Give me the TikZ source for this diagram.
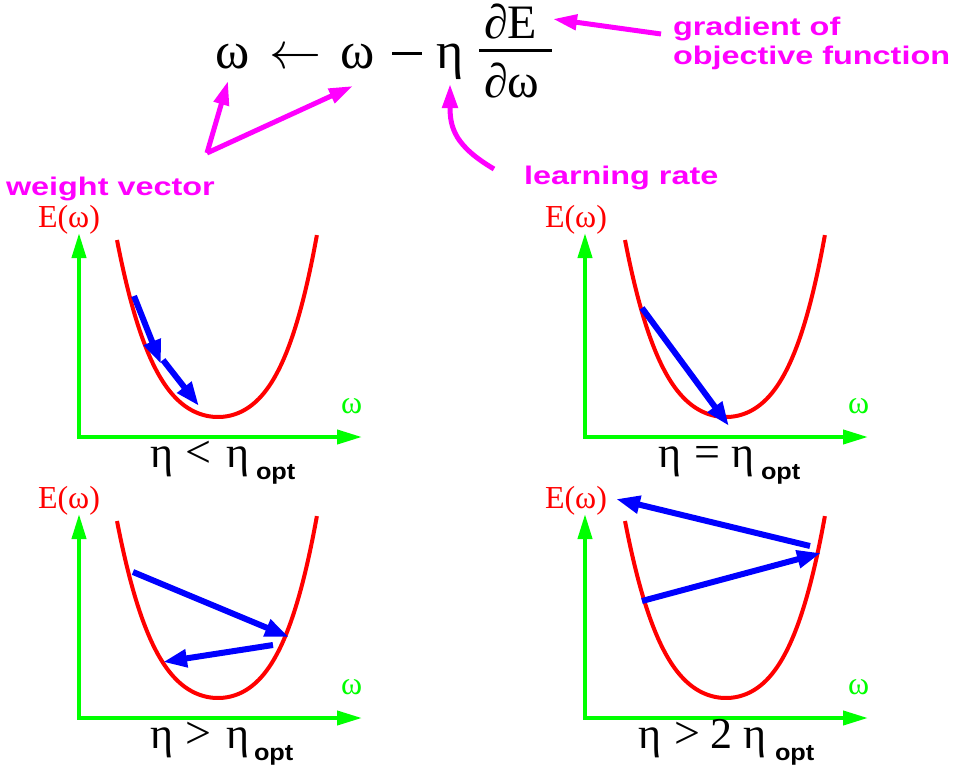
\documentclass[tikz,border=0pt]{standalone}
\usepackage{fontspec}
\usepackage{graphicx}
\setmainfont{Liberation Serif}
\newfontfamily\labfont[FakeStretch=1.27]{Liberation Sans}
\newfontfamily\optfont[FakeStretch=1.1]{Liberation Sans}
\usetikzlibrary{arrows.meta}
\definecolor{mag}{RGB}{255,0,255}
\definecolor{axgreen}{RGB}{0,255,0}
\definecolor{cvred}{RGB}{255,0,0}
\definecolor{stblue}{RGB}{0,0,255}
\newcommand\bowl[2]{\draw[curve] plot[domain=-1.01:0.99,samples=101,smooth] ({#1+218+100*\x},{#2+417-(1+0.045*\x)*(93*\x*\x+87*\x*\x*\x*\x)});}
\begin{document}
\begin{tikzpicture}[x=1pt,y=-1pt,
  every node/.style={inner sep=0pt,outer sep=0pt,anchor=base west},
  magarrow/.style={draw=mag,line width=5pt,-{Triangle[length=24pt,width=15pt]}},
  axisline/.style={draw=axgreen,line width=4pt,{Triangle[length=25pt,width=14pt]}-{Triangle[length=25pt,width=14pt]}},
  curve/.style={draw=cvred,line width=4pt},
  stepline/.style={draw=stblue,line width=6pt,-{Triangle[length=24pt,width=17pt]}},
  formula/.style={font=\fontsize{52}{60}\selectfont},
  fracpart/.style={font=\fontsize{48}{56}\selectfont},
  maglabel/.style={text=mag,font=\labfont\bfseries\fontsize{25.5}{30}\selectfont},
  elabel/.style={text=cvred,font=\fontsize{32}{36}\selectfont},
  wlabel/.style={text=axgreen,font=\fontsize{32}{36}\selectfont},
  etalabel/.style={font=\fontsize{44}{48}\selectfont},
  rellabel/.style={font=\fontsize{46}{50}\selectfont},
  optlabel/.style={font=\optfont\bfseries\fontsize{23}{26}\selectfont}]
\useasboundingbox (0,0) rectangle (953,776);

% ---- formula ----
\node[formula] (w1) at (215,68) {ω};
\node[formula] (larr) at (269,68) {\resizebox{52pt}{!}{$\leftarrow$}};
\node[formula] (w2) at (340,68) {ω};
\node[formula,anchor=west] (minus) at (392,54) {\rule{30pt}{3pt}};
\node[formula] (eta) at (436,68) {η};
\node[fracpart] (dE) at (484,39) {∂E};
\node[fracpart] (dw) at (484,97) {∂ω};
\coordinate (barL) at (479,51);
\coordinate (barR) at (552,51);
\draw[line width=3pt] (barL) -- (barR);

% ---- magenta annotations ----
\node[maglabel] (grad1) at (673,36) {gradient of};
\node[maglabel] (grad2) at (673,65) {objective function};
\node[maglabel] (wvec) at (6,195) {weight vector};
\node[maglabel] (lrate) at (524,184) {learning rate};
\coordinate (gradstart) at (661,34);
\coordinate (gradtip) at (553,19);
\draw[magarrow] (gradstart) -- (gradtip);
\coordinate (wv) at (207,153);
\coordinate (wtipA) at (228,81);
\coordinate (wtipB) at (353,86);
\draw[magarrow] (wv) -- (wtipA);
\draw[magarrow] (wv) -- (wtipB);
\coordinate (lrstart) at (494,169);
\coordinate (lrtip) at (450,84);
\draw[magarrow] (lrstart) .. controls (455,146) and (450,128) .. (lrtip);

% ---- panel 1 ----
\coordinate (p1y) at (79,233);
\coordinate (p1o) at (79,437);
\coordinate (p1x) at (362,437);
\draw[axisline] (p1y) -- (p1o) -- (p1x);
\bowl{0}{0}
\node[elabel] (e1) at (38,227) {E(ω)};
\node[wlabel] (o1) at (341,413) {ω};
\coordinate (a1s) at (134,296); \coordinate (a1e) at (161,364);
\coordinate (a2s) at (163,360); \coordinate (a2e) at (199,406);
\draw[stepline] (a1s) -- (a1e);
\draw[stepline] (a2s) -- (a2e);
\node[etalabel] (l1a) at (150,467) {η};
\node[rellabel] (l1b) at (185,467) {<};
\node[etalabel] (l1c) at (226,467) {η};
\node[optlabel] (l1d) at (256,479) {opt};

% ---- panel 2 ----
\coordinate (p2y) at (585,233);
\coordinate (p2o) at (585,437);
\coordinate (p2x) at (868,437);
\draw[axisline] (p2y) -- (p2o) -- (p2x);
\bowl{508}{0}
\node[elabel] (e2) at (545,227) {E(ω)};
\node[wlabel] (o2) at (848,413) {ω};
\coordinate (b1s) at (642,308); \coordinate (b1e) at (729,426);
\draw[stepline] (b1s) -- (b1e);
\node[etalabel] (l2a) at (658,467) {η};
\node[rellabel] (l2b) at (694,467) {=};
\node[etalabel] (l2c) at (731,467) {η};
\node[optlabel] (l2d) at (761,479) {opt};

% ---- panel 3 ----
\coordinate (p3y) at (79,514);
\coordinate (p3o) at (79,718);
\coordinate (p3x) at (362,718);
\draw[axisline] (p3y) -- (p3o) -- (p3x);
\bowl{0}{281}
\node[elabel] (e3) at (38,508) {E(ω)};
\node[wlabel] (o3) at (341,694) {ω};
\coordinate (c1s) at (133,572); \coordinate (c1e) at (289,637);
\coordinate (c2s) at (273,645); \coordinate (c2e) at (163,662);
\draw[stepline] (c1s) -- (c1e);
\draw[stepline] (c2s) -- (c2e);
\node[etalabel] (l3a) at (150,748) {η};
\node[rellabel] (l3b) at (185,748) {>};
\node[etalabel] (l3c) at (226,748) {η};
\node[optlabel] (l3d) at (254,760) {opt};

% ---- panel 4 ----
\coordinate (p4y) at (585,514);
\coordinate (p4o) at (585,718);
\coordinate (p4x) at (868,718);
\draw[axisline] (p4y) -- (p4o) -- (p4x);
\bowl{508}{281}
\node[elabel] (e4) at (545,508) {E(ω)};
\node[wlabel] (o4) at (848,694) {ω};
\coordinate (d1s) at (642,601); \coordinate (d1e) at (821,553);
\coordinate (d2s) at (810,546); \coordinate (d2e) at (616,499);
\draw[stepline] (d1s) -- (d1e);
\draw[stepline] (d2s) -- (d2e);
\node[etalabel] (l4a) at (638,748) {η};
\node[rellabel] (l4b) at (674,748) {>};
\node[etalabel] (l4c) at (710,748) {2};
\node[etalabel] (l4d) at (743,748) {η};
\node[optlabel] (l4e) at (775,760) {opt};
\end{tikzpicture}
\end{document}
